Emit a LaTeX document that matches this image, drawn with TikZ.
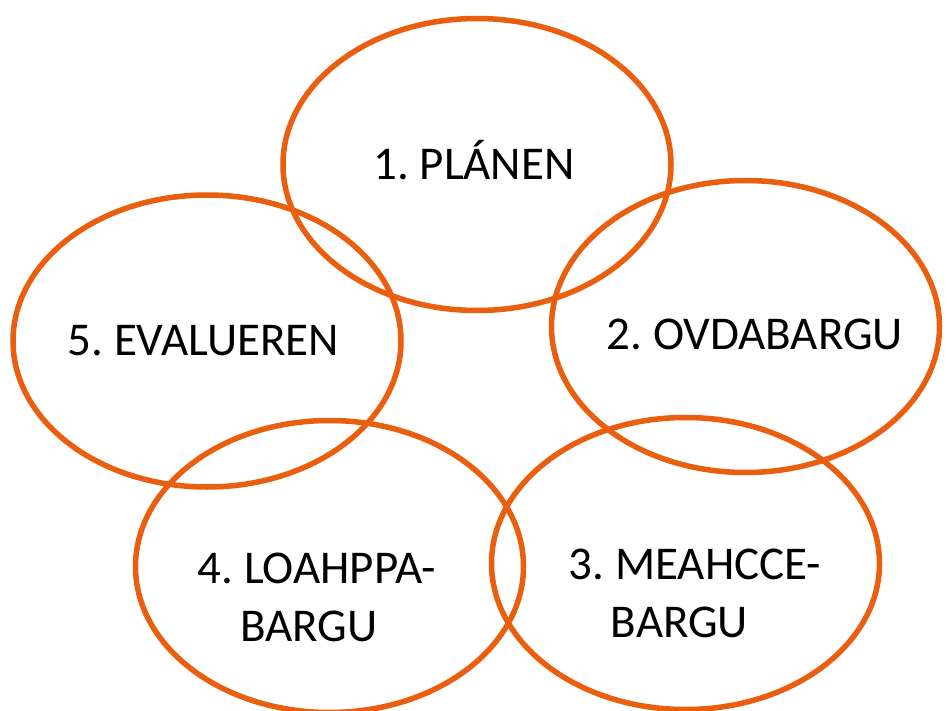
\documentclass[tikz,border=0pt]{standalone}
\usepackage{fontspec}
\setmainfont{Carlito}
\frenchspacing
\usetikzlibrary{shapes.geometric}
\definecolor{ringorange}{HTML}{E95E0F}
\begin{document}
\begin{tikzpicture}[x=1pt,y=-1pt,
  ring/.style={draw=ringorange,line width=5.5pt,ellipse,inner sep=0pt,
    minimum width=388pt,minimum height=292pt},
  lbl/.style={anchor=base,inner sep=0pt,font=\fontsize{47}{56}\selectfont,text=black}]
\useasboundingbox (0,0) rectangle (947,711);
\node[ring] (e1) at (477,164.5) {};
\node[ring] (e2) at (745.5,326.5) {};
\node[ring] (e3) at (685.5,563.5) {};
\node[ring] (e4) at (329.5,566.5) {};
\node[ring] (e5) at (207,341) {};
\node[lbl] (t1) at (474,180) {1. PLÁNEN};
\node[lbl] (t2) at (755,349) {2. OVDABARGU};
\node[lbl] (t3a) at (695,579) {3. MEAHCCE-};
\node[lbl] (t3b) at (679.5,637) {BARGU};
\node[lbl] (t4a) at (317,583) {4. LOAHPPA-};
\node[lbl] (t4b) at (309,641) {BARGU};
\node[lbl] (t5) at (203.5,355) {5. EVALUEREN};
\end{tikzpicture}
\end{document}
